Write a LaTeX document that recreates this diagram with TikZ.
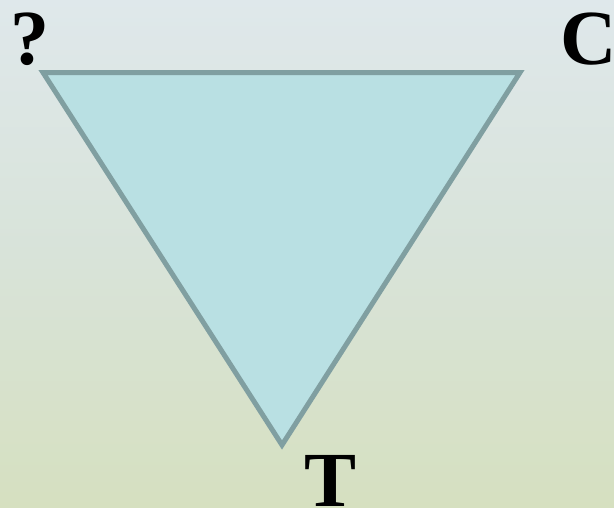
\documentclass[tikz,border=0pt]{standalone}
\usepackage{fontspec}
\setmainfont{Liberation Serif}
\definecolor{bgtop}{HTML}{DFE8EB}
\definecolor{bgmid}{HTML}{D8E3D9}
\definecolor{bgbot}{HTML}{D6E0C0}
\definecolor{trifill}{HTML}{B9E0E3}
\definecolor{triline}{HTML}{809FA1}
\tikzset{
  lbl/.style={inner sep=0pt, anchor=base west, font=\fontsize{78}{80}\selectfont\bfseries, text=black},
  tri/.style={draw=triline, fill=trifill, line width=5pt, line join=miter}
}
\begin{document}
\begin{tikzpicture}[x=1pt,y=-1pt]
\useasboundingbox (0,0) rectangle (614,507);
\shade[top color=bgtop, bottom color=bgbot, middle color=bgmid] (0,0) rectangle (614,507);
\coordinate (A) at (43,72.5);
\coordinate (B) at (520,72.5);
\coordinate (V) at (282,445);
\filldraw[tri] (A) -- (B) -- (V) -- cycle;
\node[lbl] (q) at (10,64) {?};
\node[lbl] (c) at (560,64) {C};
\node[lbl] (t) at (304,506) {T};
\end{tikzpicture}
\end{document}
